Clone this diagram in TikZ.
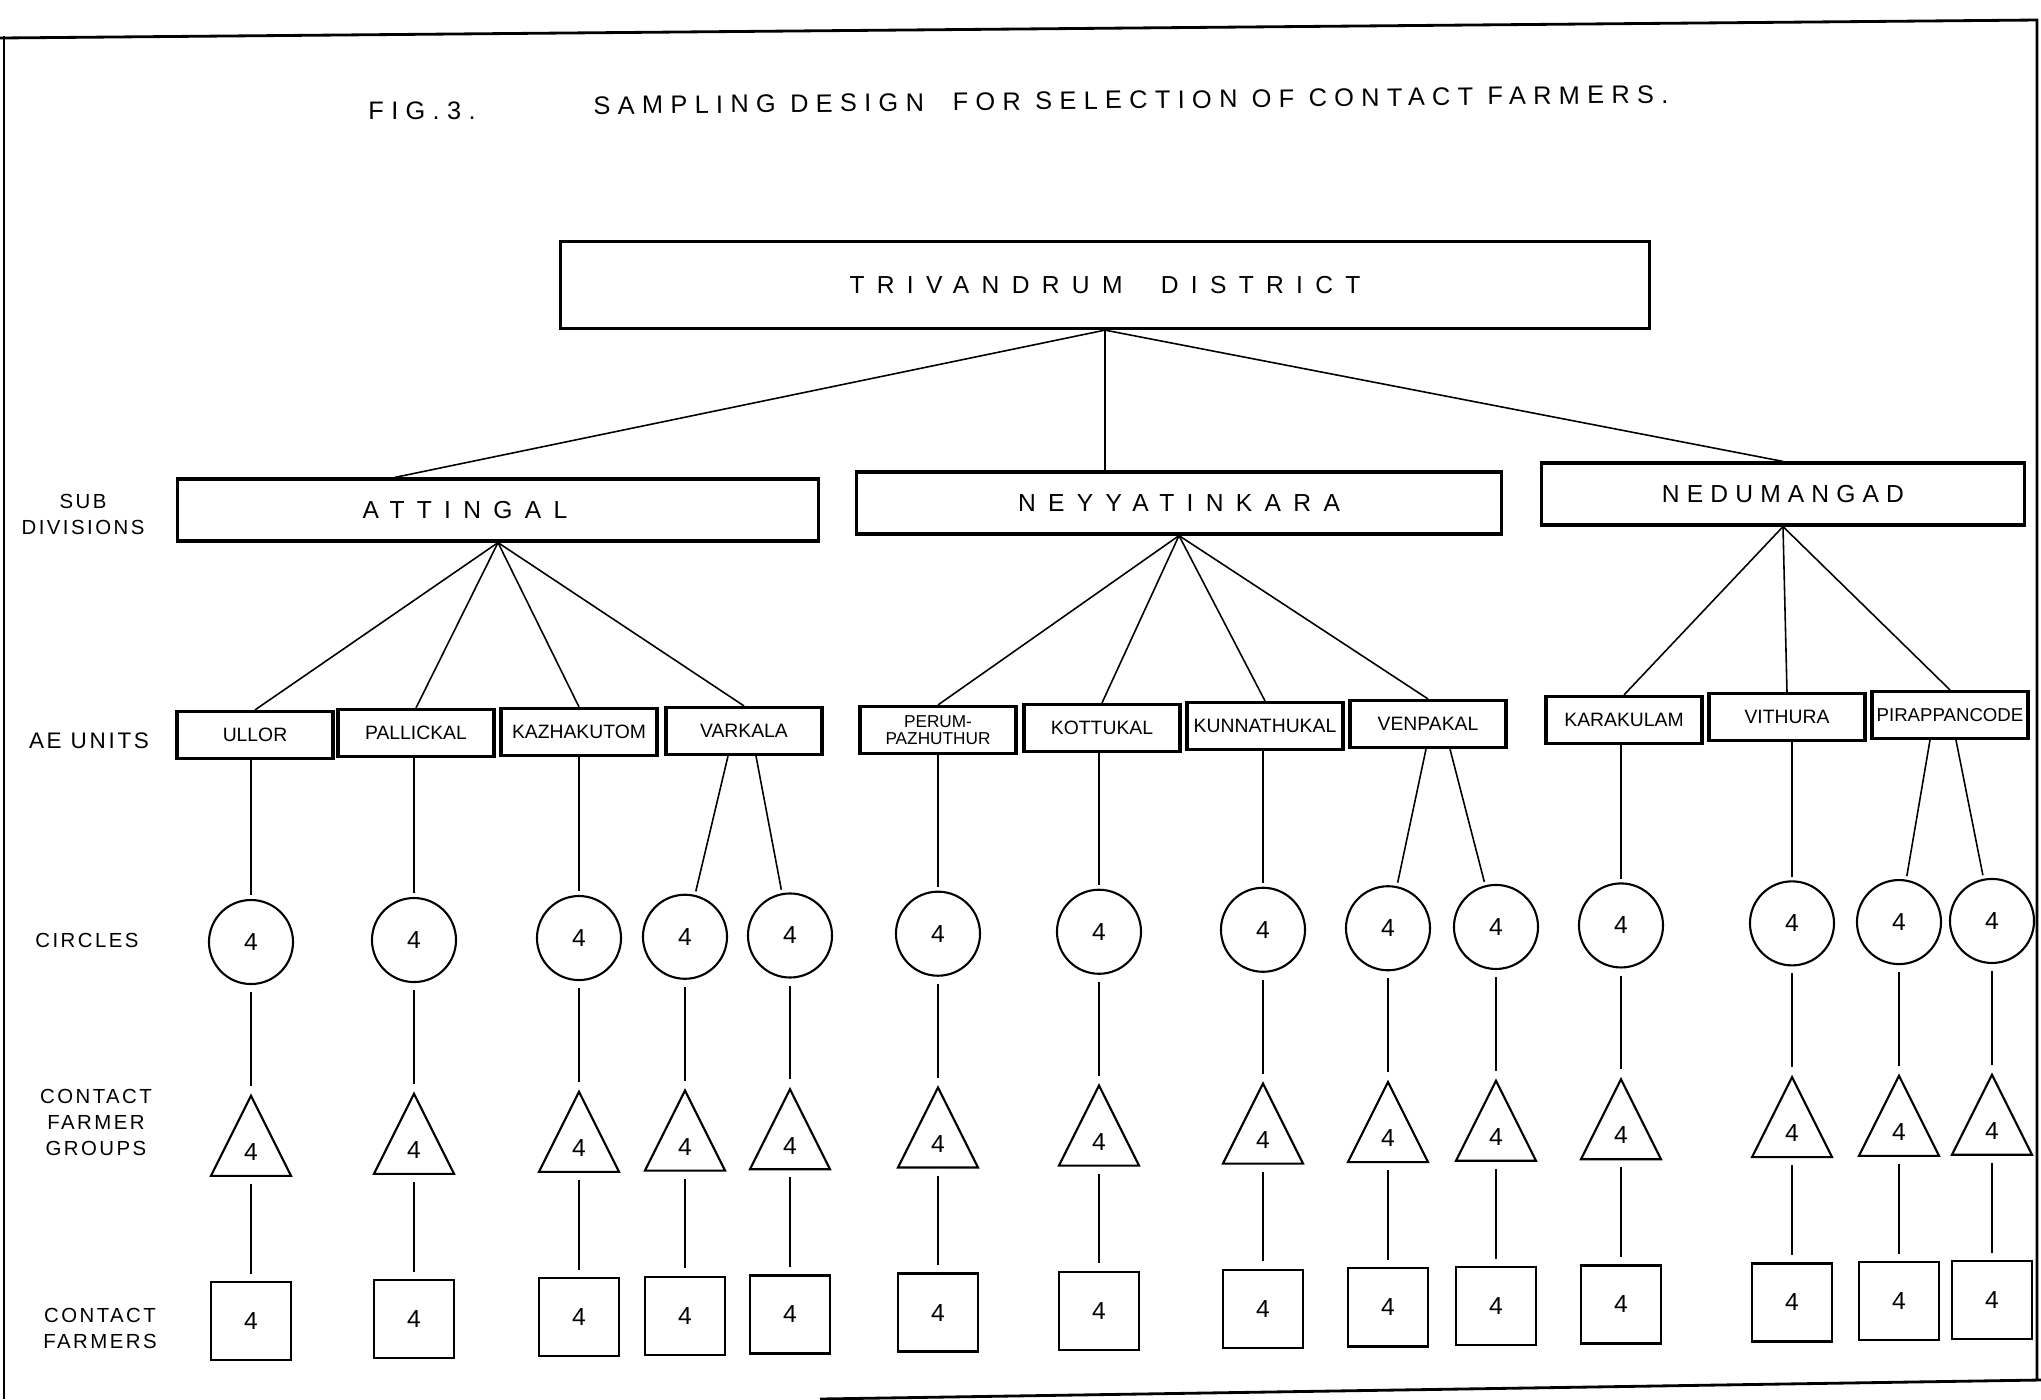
\documentclass[tikz,border=0pt]{standalone}
\usepackage{fontspec}
\setmainfont{Liberation Sans}
\newfontfamily\spacedfont[LetterSpace=50]{Liberation Sans}
\newfontfamily\titlefont[LetterSpace=29]{Liberation Sans}
\newfontfamily\rowfont[LetterSpace=12]{Liberation Sans}
\usetikzlibrary{calc,shapes.geometric}

\begin{document}
\begin{tikzpicture}[x=0.01cm,y=-0.01cm,
  link/.style={line width=0.45pt},
  frameline/.style={line width=0.8pt},
  topbox/.style={draw,line width=0.9pt,minimum width=10.88cm,minimum height=0.87cm,
    font=\spacedfont\fontsize{7}{8}\selectfont},
  subbox/.style={draw,line width=0.9pt,minimum height=0.62cm,
    font=\spacedfont\fontsize{7}{8}\selectfont},
  unitbox/.style={draw,line width=0.9pt,minimum width=1.56cm,minimum height=0.47cm,
    inner sep=0.5pt,align=center,font=\fontsize{5.5}{5.8}\selectfont},
  circ/.style={circle,draw,line width=0.6pt,minimum size=0.84cm,inner sep=0pt,
    font=\fontsize{7}{8}\selectfont},
  tri/.style={isosceles triangle,isosceles triangle stretches,shape border rotate=90,
    draw,line width=0.6pt,minimum width=0.80cm,minimum height=0.80cm,inner sep=0pt,
    font=\fontsize{7}{8}\selectfont},
  sq/.style={draw,line width=0.7pt,minimum width=0.80cm,minimum height=0.78cm,
    font=\fontsize{7}{8}\selectfont},
  rowlabel/.style={align=center,font=\rowfont\fontsize{5.8}{7.4}\selectfont}]
\useasboundingbox (0,0) rectangle (2041,1399);

% frame
\draw[frameline] (0,38) -- (2037,20) -- (2037,1380);
\draw[frameline] (4,36) -- (4,1399);
\draw[frameline] (820,1399) -- (2041,1380);

% title
\node[font=\titlefont\fontsize{7.2}{8}\selectfont] (fig) at (422,111) {FIG.3.};
\node[font=\titlefont\fontsize{7.2}{8}\selectfont,rotate=0.6] (title) at (1131,100)
  {SAMPLING DESIGN\ \ FOR SELECTION OF CONTACT FARMERS.};

% row labels
\node[rowlabel] (lsub) at (83,514) {SUB\\DIVISIONS};
\node[rowlabel,font=\rowfont\fontsize{6.4}{7}\selectfont] (lae) at (89,741) {AE UNITS};
\node[rowlabel] (lcirc) at (87,940) {CIRCLES};
\node[rowlabel] (lgrp) at (96,1122) {CONTACT\\FARMER\\GROUPS};
\node[rowlabel] (lfarm) at (100,1328) {CONTACT\\FARMERS};

% district and sub divisions
\node[topbox] (trivandrum) at (1105,285) {TRIVANDRUM\ \ DISTRICT};
\node[subbox,minimum width=6.41cm] (attingal) at (498,510) {\hspace*{-0.66cm}ATTINGAL};
\node[subbox,minimum width=6.45cm] (neyyatinkara) at (1179,503) {NEYYATINKARA};
\node[subbox,minimum width=4.82cm,font=\titlefont\fontsize{7}{8}\selectfont] (nedumangad) at (1783,494) {NEDUMANGAD};

\draw[link] (trivandrum.south) -- ($(attingal.north west)!0.34!(attingal.north east)$);
\draw[link] (trivandrum.south) -- (trivandrum.south |- neyyatinkara.north);
\draw[link] (trivandrum.south) -- (nedumangad.north);

% AE units
\node[unitbox] (ullor) at (255,735) {ULLOR};
\node[unitbox] (pallickal) at (416,733) {PALLICKAL};
\node[unitbox] (kazhakutom) at (579,732) {KAZHAKUTOM};
\node[unitbox] (varkala) at (744,731) {VARKALA};
\node[unitbox,font=\fontsize{4.9}{5}\selectfont] (perum) at (938,730) {PERUM-\\PAZHUTHUR};
\node[unitbox] (kottukal) at (1102,728) {KOTTUKAL};
\node[unitbox] (kunnathukal) at (1265,726) {KUNNATHUKAL};
\node[unitbox] (venpakal) at (1428,724) {VENPAKAL};
\node[unitbox] (karakulam) at (1624,720) {KARAKULAM};
\node[unitbox] (vithura) at (1787,717) {VITHURA};
\node[unitbox,font=\fontsize{5.3}{5.8}\selectfont] (pirappancode) at (1950,715) {PIRAPPANCODE};

\foreach \u in {ullor,pallickal,kazhakutom,varkala}
  \draw[link] (attingal.south) -- (\u.north);
\foreach \u in {perum,kottukal,kunnathukal,venpakal}
  \draw[link] (neyyatinkara.south) -- (\u.north);
\foreach \u in {karakulam,vithura,pirappancode}
  \draw[link] (nedumangad.south) -- (\u.north);

% circles, contact farmer groups, contact farmers
\foreach \i/\x in {1/251,2/414,3/579,4/685,5/790,6/938,7/1099,8/1263,9/1388,10/1496,11/1621,12/1792,13/1899,14/1992}{
  \pgfmathsetmacro{\dy}{-0.0121*(\x-251)}
  \node[circ] (c\i) at (\x,942+\dy) {4};
  \node[tri,anchor=apex] (t\i) at (\x,1093+\dy) {4};
  \node[sq] (s\i) at (\x,1321+\dy) {4};
  \draw[link,shorten <=2pt,shorten >=2pt] (c\i) -- (t\i.apex);
  \draw[link,shorten <=2pt,shorten >=2pt] (t\i.lower side) -- (s\i);
}

\foreach \u/\c in {ullor/c1,pallickal/c2,kazhakutom/c3,perum/c6,kottukal/c7,
    kunnathukal/c8,karakulam/c11,vithura/c12}
  \draw[link,shorten >=1pt] (\u.south -| \c) -- (\c);
\draw[link,shorten >=1pt] ([xshift=-0.16cm]varkala.south) -- (c4);
\draw[link,shorten >=1pt] ([xshift=0.12cm]varkala.south) -- (c5);
\draw[link,shorten >=1pt] ([xshift=-0.02cm]venpakal.south) -- (c9);
\draw[link,shorten >=1pt] ([xshift=0.22cm]venpakal.south) -- (c10);
\draw[link,shorten >=1pt] ([xshift=-0.2cm]pirappancode.south) -- (c13);
\draw[link,shorten >=1pt] ([xshift=0.06cm]pirappancode.south) -- (c14);
\end{tikzpicture}
\end{document}
